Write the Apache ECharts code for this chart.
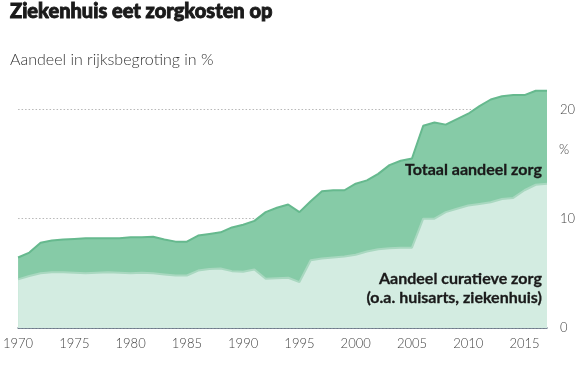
<!DOCTYPE html>
<html>
<head>
<meta charset="utf-8">
<script src="https://cdn.jsdelivr.net/npm/echarts@6/dist/echarts.min.js"></script>
<style>
html,body{margin:0;padding:0;background:#fff;}
#chart{width:581px;height:365px;}
</style>
</head>
<body>
<div id="chart"></div>
<script>
var years = [];
for (var y = 1970; y <= 2017; y++) years.push(y);

var totaalZorg = [
  6.45, 6.9, 7.8, 8.0, 8.1, 8.15, 8.2, 8.2, 8.2, 8.2,
  8.3, 8.3, 8.35, 8.1, 7.9, 7.9, 8.45, 8.6, 8.75, 9.2,
  9.45, 9.8, 10.6, 11.0, 11.3, 10.6, 11.6, 12.5, 12.6, 12.6,
  13.2, 13.5, 14.1, 14.9, 15.3, 15.5, 18.5, 18.8, 18.6, 19.1,
  19.6, 20.3, 20.9, 21.2, 21.3, 21.3, 21.7, 21.7
];

var curatieveZorg = [
  4.45, 4.75, 5.0, 5.1, 5.1, 5.05, 5.0, 5.05, 5.1, 5.05,
  5.0, 5.05, 5.0, 4.9, 4.8, 4.8, 5.25, 5.4, 5.45, 5.2,
  5.15, 5.35, 4.5, 4.55, 4.6, 4.2, 6.2, 6.35, 6.45, 6.55,
  6.7, 7.0, 7.2, 7.3, 7.35, 7.35, 10.0, 10.0, 10.6, 10.9,
  11.2, 11.35, 11.5, 11.8, 11.9, 12.6, 13.1, 13.2
];

var xTickLabels = [1970, 1975, 1980, 1985, 1990, 1995, 2000, 2005, 2010, 2015];
var yTickLabels = [0, 10, 20];

var title = 'Ziekenhuis eet zorgkosten op';
var subtitle = 'Aandeel in rijksbegroting in %';
var labelTotaal = 'Totaal aandeel zorg';
var labelCuratief1 = 'Aandeel curatieve zorg';
var labelCuratief2 = '(o.a. huisarts, ziekenhuis)';

function pairs(vals) {
  return vals.map(function (v, i) { return [years[i], v]; });
}

var chart = echarts.init(document.getElementById('chart'), null, {renderer: 'canvas'});
var labelFont = 'Lato, "Open Sans", sans-serif';
var boldStyle = {fontFamily: 'Lato, sans-serif', fontWeight: 'bold', fontSize: 16, fill: '#1a1a1a',
                 stroke: '#1a1a1a', lineWidth: 0.3};

chart.setOption({
  animation: false,
  backgroundColor: '#ffffff',
  title: [
    {text: title, left: 10, top: 2, padding: 0,
     textStyle: {fontFamily: 'Lato, sans-serif', fontWeight: 900, fontSize: 20, color: '#1a1a1a',
                 textBorderColor: '#1a1a1a', textBorderWidth: 0.9}},
    {text: subtitle, left: 10, top: 52, padding: 0,
     textStyle: {fontFamily: labelFont, fontWeight: 300, fontSize: 16, color: '#333'}}
  ],
  grid: {left: 11, right: 34, top: -2, bottom: 37},
  xAxis: {
    type: 'value', min: 1970, max: 2017, interval: 5,
    axisLine: {show: true, lineStyle: {color: '#56667a', width: 1.5}},
    axisTick: {show: false},
    splitLine: {show: false},
    axisLabel: {
      margin: 9, fontSize: 13, fontFamily: labelFont, fontWeight: 300, color: '#444',
      formatter: function (v) { return xTickLabels.indexOf(v) >= 0 ? String(v) : ''; }
    }
  },
  yAxis: {
    type: 'value', position: 'right', min: 0, max: 30, interval: 10,
    axisLine: {show: false},
    axisTick: {show: false},
    splitLine: {show: true, lineStyle: {color: ['#b8b8b8', '#b8b8b8', '#b8b8b8', 'rgba(0,0,0,0)'], type: [1.5, 2], width: 1}},
    axisLabel: {
      margin: 13, fontSize: 13, fontFamily: labelFont, fontWeight: 300, color: '#444',
      formatter: function (v) { return yTickLabels.indexOf(v) >= 0 ? String(v) : ''; }
    }
  },
  series: [
    {
      name: labelTotaal, type: 'line', data: pairs(totaalZorg), symbol: 'none', z: 2,
      lineStyle: {color: '#66b98e', width: 2},
      areaStyle: {color: '#86cba7', opacity: 1}
    },
    {
      name: labelCuratief1, type: 'line', data: pairs(curatieveZorg), symbol: 'none', z: 3,
      lineStyle: {color: '#a9d8c0', width: 2},
      areaStyle: {color: '#d3ece1', opacity: 1}
    }
  ],
  graphic: [
    {type: 'text', right: 39, top: 162, z: 10, style: Object.assign({text: labelTotaal}, boldStyle)},
    {type: 'text', right: 39, top: 271, z: 10, style: Object.assign({text: labelCuratief1}, boldStyle)},
    {type: 'text', right: 39, top: 290, z: 10, style: Object.assign({text: labelCuratief2}, boldStyle)},
    {type: 'text', left: 559, top: 143, z: 10,
     style: {text: '%', fontFamily: labelFont, fontWeight: 300, fontSize: 13, fill: '#444'}}
  ]
});
</script>
</body>
</html>
